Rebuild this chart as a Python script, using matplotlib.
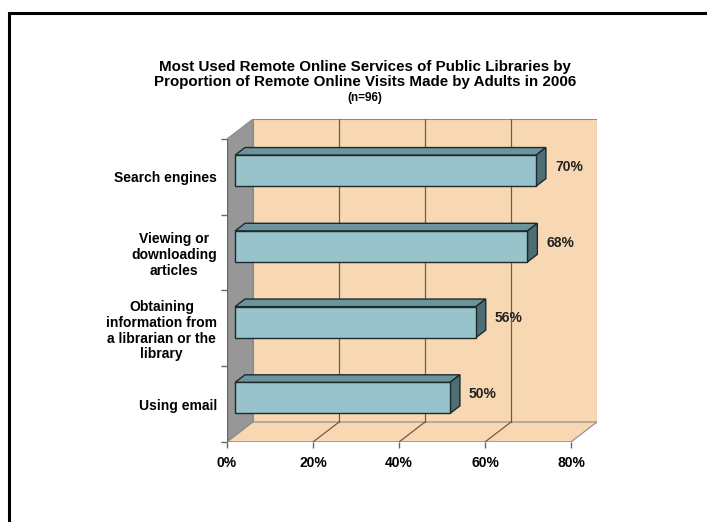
import matplotlib
matplotlib.use("Agg")
import matplotlib.pyplot as plt
from matplotlib.patches import Polygon, Rectangle

plt.rcParams['font.family'] = ['Liberation Sans', 'DejaVu Sans']

# Data
categories = ["Search engines",
              "Viewing or\ndownloading\narticles",
              "Obtaining\ninformation from\na librarian or the\nlibrary",
              "Using email"]
values = [70, 68, 56, 50]
xticks = [0, 20, 40, 60, 80]
xtick_labels = ["0%", "20%", "40%", "60%", "80%"]
title_main = ("Most Used Remote Online Services of Public Libraries by\n"
              "Proportion of Remote Online Visits Made by Adults in 2006")
title_sub = "(n=96)"

# Pseudo-3D geometry (data units)
xmax = 80
n = len(categories)
depth_x = 6.06      # horizontal shift of the back plane
depth_y = 0.264     # vertical shift of the back plane
bar_h = 0.41        # bar thickness in category bands
f_front, f_back = 0.31, 0.69   # bar depth range as fraction of full depth

wall_col = "#F7D8B2"
side_wall_col = "#979797"
edge_col = "#8a8a8a"
grid_col = "#6e5c4a"
face_col = "#98C3CB"
top_col = "#6D949C"
side_col = "#4F6D75"
bar_edge = "#1c2a2c"

fig = plt.figure(figsize=(7.07, 5.22), dpi=100)

# Outer frame
fig.add_artist(Rectangle((8.5 / 707, -0.1), 1.2, 1.1 - 12.5 / 522,
                         transform=fig.transFigure, fill=False,
                         edgecolor="black", linewidth=2.2))

ax = fig.add_axes([227 / 707, 1 - 442 / 522, 370 / 707, 323 / 522])
ax.set_xlim(0, xmax + depth_x)
ax.set_ylim(0, n + depth_y)
for s in ax.spines.values():
    s.set_visible(False)
ax.patch.set_visible(False)

# Back wall
ax.add_patch(Polygon([(depth_x, depth_y), (xmax + depth_x, depth_y),
                      (xmax + depth_x, n + depth_y), (depth_x, n + depth_y)],
                     closed=True, facecolor=wall_col, edgecolor=edge_col,
                     linewidth=0.8, zorder=1))
# Left wall
ax.add_patch(Polygon([(0, 0), (depth_x, depth_y), (depth_x, n + depth_y), (0, n)],
                     closed=True, facecolor=side_wall_col, edgecolor=edge_col,
                     linewidth=0.8, zorder=1))
# Floor
ax.add_patch(Polygon([(0, 0), (xmax, 0), (xmax + depth_x, depth_y), (depth_x, depth_y)],
                     closed=True, facecolor=wall_col, edgecolor=edge_col,
                     linewidth=0.8, zorder=1))

# Gridlines on back wall and floor
for t in xticks[1:-1]:
    ax.plot([t + depth_x, t + depth_x], [depth_y, n + depth_y],
            color=grid_col, linewidth=0.9, zorder=2)
    ax.plot([t, t + depth_x], [0, depth_y], color=grid_col, linewidth=0.9, zorder=2)

# Axis lines at the front edge
ax.plot([0, 0], [0, n], color="#666666", linewidth=1.0, zorder=2)
ax.plot([0, xmax], [0, 0], color="#666666", linewidth=1.0, zorder=2)

# Bars
for i, v in enumerate(values):
    c = n - 0.5 - i
    x0f, y0f = f_front * depth_x, c - bar_h / 2 + f_front * depth_y
    x0b, y0b = f_back * depth_x, c - bar_h / 2 + f_back * depth_y
    # top face
    ax.add_patch(Polygon([(x0f, y0f + bar_h), (x0f + v, y0f + bar_h),
                          (x0b + v, y0b + bar_h), (x0b, y0b + bar_h)],
                         closed=True, facecolor=top_col, edgecolor=bar_edge,
                         linewidth=1.0, zorder=4))
    # side face
    ax.add_patch(Polygon([(x0f + v, y0f), (x0b + v, y0b),
                          (x0b + v, y0b + bar_h), (x0f + v, y0f + bar_h)],
                         closed=True, facecolor=side_col, edgecolor=bar_edge,
                         linewidth=1.0, zorder=4))
    # front face
    ax.add_patch(Rectangle((x0f, y0f), v, bar_h, facecolor=face_col,
                           edgecolor=bar_edge, linewidth=1.0, zorder=5))
    # value label
    ax.annotate(f"{v}%", xy=(v + 0.5 * depth_x, c + 0.5 * depth_y),
                xytext=(14, 0), textcoords="offset pixels",
                ha="left", va="center", fontsize=10, fontweight="bold",
                color="#222222", zorder=6)

# Ticks and labels
ax.set_xticks(xticks)
ax.set_xticklabels(xtick_labels, fontsize=10, fontweight="bold")
ax.tick_params(axis="x", direction="out", length=4, width=1, color="#666666", pad=6)

centers = [n - 0.5 - i for i in range(n)]
ax.set_yticks(centers)
ax.set_yticklabels(categories, fontsize=10, fontweight="bold",
                   multialignment="center", linespacing=1.15)
ax.tick_params(axis="y", which="major", length=0, pad=7)
ax.set_yticks(list(range(n + 1)), minor=True)
ax.tick_params(axis="y", which="minor", direction="out", length=4, width=1,
               color="#666666")

# Title
fig.text(365 / 707, 1 - 74.5 / 522, title_main, ha="center", va="center",
         fontsize=10.9, fontweight="bold", linespacing=1.1)
fig.text(365 / 707, 1 - 97.5 / 522, title_sub, ha="center", va="center",
         fontsize=8.5, fontweight="bold")

fig.savefig("out.png", dpi=100)
